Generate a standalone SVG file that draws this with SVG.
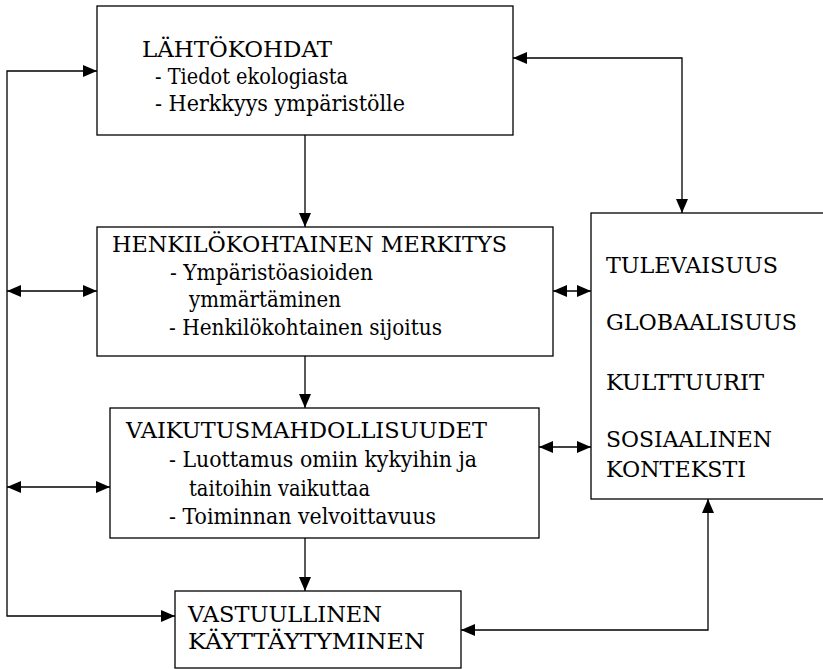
<svg xmlns="http://www.w3.org/2000/svg" width="823" height="669" viewBox="0 0 823 669">
<style>
.box{fill:#fff;stroke:#000;stroke-width:1.3}
.c{fill:none;stroke:#000;stroke-width:1.3;marker-end:url(#ah)}
.b{marker-start:url(#ah)}
text{font-family:"DejaVu Serif","Liberation Serif","Times New Roman",serif;font-size:22.5px;fill:#000}
</style>
<defs>
<marker id="ah" markerUnits="userSpaceOnUse" markerWidth="14" markerHeight="12" refX="14" refY="6" orient="auto-start-reverse" viewBox="0 0 14 12">
<path d="M0,0 L14,6 L0,12 z" fill="#000"/>
</marker>
</defs>
<rect width="823" height="669" fill="#fff"/>
<g id="connectors">
<path class="c b" d="M97,71 H7 V616 H175"/>
<path class="c b" d="M7,291 H97"/>
<path class="c b" d="M7,487 H110"/>
<path class="c" d="M305,135 V227"/>
<path class="c" d="M305,356 V408"/>
<path class="c" d="M305,538 V591"/>
<path class="c b" d="M513,58 H682 V213"/>
<path class="c b" d="M553,291 H591"/>
<path class="c b" d="M539,447 H591"/>
<path class="c b" d="M461,630 H708 V499"/>
</g>
<g id="lahtokohdat">
<rect class="box" x="97" y="6" width="416" height="129"/>
<text x="142" y="57" textLength="190" lengthAdjust="spacingAndGlyphs">LÄHTÖKOHDAT</text>
<text x="155" y="84" textLength="193" lengthAdjust="spacingAndGlyphs">- Tiedot ekologiasta</text>
<text x="155" y="111" textLength="250" lengthAdjust="spacingAndGlyphs">- Herkkyys ympäristölle</text>
</g>
<g id="henkilokohtainen">
<rect class="box" x="97" y="227" width="456" height="129"/>
<text x="112" y="252" textLength="395" lengthAdjust="spacingAndGlyphs">HENKILÖKOHTAINEN MERKITYS</text>
<text x="170" y="280" textLength="203" lengthAdjust="spacingAndGlyphs">- Ympäristöasioiden</text>
<text x="189" y="307" textLength="152" lengthAdjust="spacingAndGlyphs">ymmärtäminen</text>
<text x="169" y="335" textLength="273" lengthAdjust="spacingAndGlyphs">- Henkilökohtainen sijoitus</text>
</g>
<g id="vaikutus">
<rect class="box" x="110" y="408" width="429" height="130"/>
<text x="126" y="438" textLength="361" lengthAdjust="spacingAndGlyphs">VAIKUTUSMAHDOLLISUUDET</text>
<text x="169" y="467" textLength="308" lengthAdjust="spacingAndGlyphs">- Luottamus omiin kykyihin ja</text>
<text x="189" y="496" textLength="181" lengthAdjust="spacingAndGlyphs">taitoihin vaikuttaa</text>
<text x="169" y="524" textLength="267" lengthAdjust="spacingAndGlyphs">- Toiminnan velvoittavuus</text>
</g>
<g id="vastuullinen">
<rect class="box" x="175" y="591" width="286" height="77"/>
<text x="188" y="622" textLength="194" lengthAdjust="spacingAndGlyphs">VASTUULLINEN</text>
<text x="188" y="649" textLength="237" lengthAdjust="spacingAndGlyphs">KÄYTTÄYTYMINEN</text>
</g>
<g id="konteksti">
<rect class="box" x="591" y="213" width="250" height="286"/>
<text x="606" y="273" textLength="172" lengthAdjust="spacingAndGlyphs">TULEVAISUUS</text>
<text x="606" y="330" textLength="191" lengthAdjust="spacingAndGlyphs">GLOBAALISUUS</text>
<text x="606" y="390" textLength="158" lengthAdjust="spacingAndGlyphs">KULTTUURIT</text>
<text x="606" y="447" textLength="166" lengthAdjust="spacingAndGlyphs">SOSIAALINEN</text>
<text x="606" y="477" textLength="140" lengthAdjust="spacingAndGlyphs">KONTEKSTI</text>
</g>
</svg>
